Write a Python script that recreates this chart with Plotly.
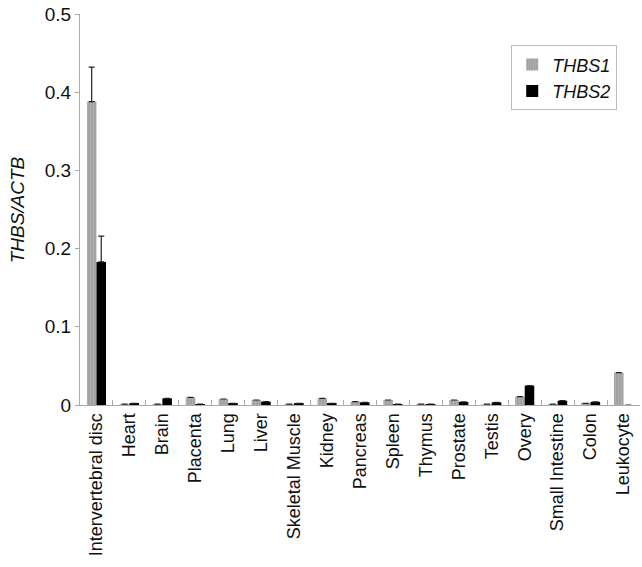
import plotly.graph_objects as go

categories = ["Intervertebral disc", "Heart", "Brain", "Placenta", "Lung", "Liver",
              "Skeletal Muscle", "Kidney", "Pancreas", "Spleen", "Thymus", "Prostate",
              "Testis", "Overy", "Small Intestine", "Colon", "Leukocyte"]
thbs1 = [0.388, 0.001, 0.001, 0.0098, 0.0077, 0.0064, 0.001, 0.0085, 0.0043, 0.0064,
         0.001, 0.0064, 0.001, 0.0107, 0.001, 0.002, 0.0414]
thbs2 = [0.183, 0.002, 0.0085, 0.001, 0.002, 0.0043, 0.002, 0.002, 0.0034, 0.001,
         0.001, 0.004, 0.0034, 0.0248, 0.0055, 0.004, 0.0]
thbs1_err = [0.044] + [None] * 16
thbs2_err = [0.033] + [None] * 16
no_err = [0] + [None] * 16
y_ticks = [0, 0.1, 0.2, 0.3, 0.4, 0.5]
y_ticklabels = ["0", "0.1", "0.2", "0.3", "0.4", "0.5"]

FONT = "Liberation Sans, Arial, sans-serif"

fig = go.Figure()
fig.add_trace(go.Bar(
    x=categories, y=thbs1, name="<i>THBS1</i>",
    marker=dict(color="#a6a6a6", line=dict(width=0),
                pattern=dict(shape="|", fgcolor="#bcbcbc", bgcolor="#a2a2a2",
                             size=3, solidity=0.35)),
    error_y=dict(type="data", symmetric=False, array=thbs1_err, arrayminus=no_err,
                 visible=True, color="#222222", thickness=1.2, width=3),
))
fig.add_trace(go.Bar(
    x=categories, y=thbs2, name="<i>THBS2</i>",
    marker=dict(color="#000000", line=dict(width=0)),
    error_y=dict(type="data", symmetric=False, array=thbs2_err, arrayminus=no_err,
                 visible=True, color="#222222", thickness=1.2, width=3),
))

fig.update_layout(
    width=642, height=567,
    margin=dict(l=80, r=2, t=14, b=162),
    paper_bgcolor="white", plot_bgcolor="white",
    barmode="group", bargap=0.42, bargroupgap=0,
    font=dict(family=FONT, size=18, color="#111111"),
    showlegend=True,
    legend=dict(x=0.77, y=0.92, xanchor="left", yanchor="top",
                bordercolor="#bbbbbb", borderwidth=1, bgcolor="white",
                font=dict(size=18, color="#111111"),
                itemwidth=30, tracegroupgap=0),
    xaxis=dict(
        automargin=False,
        showline=True, linecolor="#aaaaaa", linewidth=1,
        ticks="inside", tickson="boundaries", ticklen=5, tickcolor="#aaaaaa",
        tickangle=-90, tickfont=dict(size=18, color="#111111"),
        showgrid=False,
    ),
    yaxis=dict(
        automargin=False,
        range=[0, 0.5], tickvals=y_ticks, ticktext=y_ticklabels,
        showline=True, linecolor="#aaaaaa", linewidth=1,
        ticks="outside", ticklen=4, tickcolor="#aaaaaa",
        tickfont=dict(size=19, color="#111111"),
        showgrid=False, zeroline=False,
    ),
    annotations=[dict(
        text="<i>THBS/ACTB</i>", xref="paper", yref="paper",
        x=-0.111, y=0.5, xanchor="center", yanchor="middle",
        textangle=-90, showarrow=False, font=dict(size=19, color="#111111"),
    )],
)

fig.write_html("out.html", config={"displayModeBar": False},
               post_script="document.body.style.margin='0px';document.body.style.padding='0px';")
